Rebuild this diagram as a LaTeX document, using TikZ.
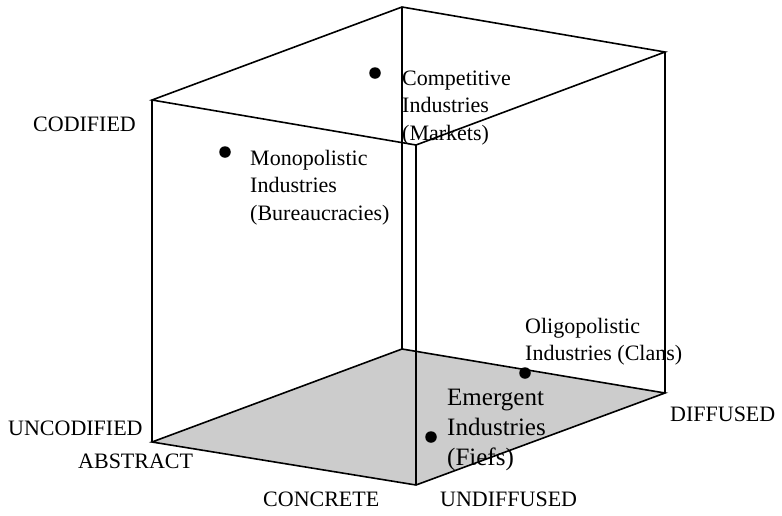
\documentclass[tikz,border=0pt]{standalone}
\usepackage{fontspec}
\setmainfont{Liberation Serif}
% a left-aligned block of lines whose baseline is its first line
\newcommand{\lineblock}[1]{\begin{tabular}[t]{@{}l@{}}#1\end{tabular}}
\begin{document}
\begin{tikzpicture}[x=1pt,y=-1pt,
  edge/.style={line width=1.6pt,line join=miter},
  face/.style={fill=black!20},
  dot/.style={circle,fill=black,inner sep=0pt,minimum size=11.5pt},
  axislabel/.style={inner sep=0pt,font=\fontsize{22}{27}\selectfont},
  firm/.style={inner sep=0pt,font=\fontsize{22}{27.5}\selectfont},
  bigfirm/.style={inner sep=0pt,font=\fontsize{25}{30}\selectfont}]
\useasboundingbox (0,0) rectangle (782,515);
% cube corners: top face
\coordinate (TL) at (152,100);
\coordinate (TB) at (402,7);
\coordinate (TR) at (665,52);
\coordinate (TF) at (416,145);
% bottom face
\coordinate (BL) at (152,442);
\coordinate (BB) at (402,349);
\coordinate (BR) at (665,393);
\coordinate (BF) at (416,485);
% shaded floor
\fill[face] (BL) -- (BB) -- (BR) -- (BF) -- cycle;
% edges
\draw[edge] (TL) -- (TB) -- (TR) -- (TF) -- cycle;
\draw[edge] (BL) -- (BB) -- (BR) -- (BF) -- cycle;
\draw[edge] (TL) -- (BL);
\draw[edge] (TB) -- (BB);
\draw[edge] (TR) -- (BR);
\draw[edge] (TF) -- (BF);
% axis labels
\node[axislabel,anchor=base west] (cod) at (33,131) {CODIFIED};
\node[axislabel,anchor=base west] (uncod) at (8,435) {UNCODIFIED};
\node[axislabel,anchor=base west] (abs) at (78,468) {ABSTRACT};
\node[axislabel,anchor=base west] (conc) at (263,506) {CONCRETE};
\node[axislabel,anchor=base west] (undif) at (440,506) {UNDIFFUSED};
\node[axislabel,anchor=base west] (dif) at (670,421) {DIFFUSED};
% industry positions
\node[dot] (comp) at (375,73) {};
\node[firm,anchor=base west] (compt) at (402,85) {\lineblock{Competitive\\Industries\\(Markets)}};
\node[dot] (mono) at (225,152) {};
\node[firm,anchor=base west] (monot) at (250,165) {\lineblock{Monopolistic\\Industries\\(Bureaucracies)}};
\node[dot] (olig) at (525,373) {};
\node[firm,anchor=base west] (oligt) at (525,333) {\lineblock{Oligopolistic\\Industries (Clans)}};
\node[dot] (emer) at (431,437) {};
\node[bigfirm,anchor=base west] (emert) at (447,405) {\lineblock{Emergent\\Industries\\(Fiefs)}};
\end{tikzpicture}
\end{document}
